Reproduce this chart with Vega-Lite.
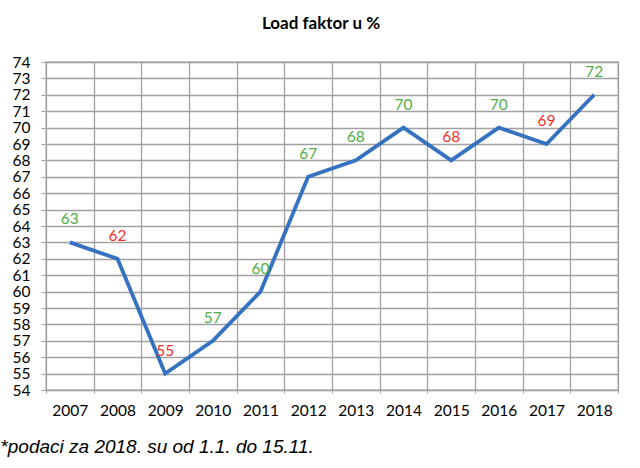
{
  "$schema": "https://vega.github.io/schema/vega-lite/v6.json",
  "background": "white",
  "padding": {"left": 0, "top": 14, "right": 10, "bottom": 5},
  "title": {
    "text": "*podaci za 2018. su od 1.1. do 15.11.",
    "orient": "bottom",
    "anchor": "start",
    "font": "Liberation Sans",
    "fontStyle": "italic",
    "fontWeight": "normal",
    "fontSize": 19,
    "color": "black",
    "offset": 19,
    "dx": -11
  },
  "vconcat": [
    {
      "width": 572,
      "height": 328,
      "title": {
        "text": "Load faktor u %",
        "font": "Lato",
        "fontSize": 17,
        "fontWeight": "bold",
        "color": "black",
        "offset": 22,
        "dx": -11
      },
      "data": {
        "values": [
          {"year": "2007", "value": 63, "trend": "up"},
          {"year": "2008", "value": 62, "trend": "down"},
          {"year": "2009", "value": 55, "trend": "down"},
          {"year": "2010", "value": 57, "trend": "up"},
          {"year": "2011", "value": 60, "trend": "up"},
          {"year": "2012", "value": 67, "trend": "up"},
          {"year": "2013", "value": 68, "trend": "up"},
          {"year": "2014", "value": 70, "trend": "up"},
          {"year": "2015", "value": 68, "trend": "down"},
          {"year": "2016", "value": 70, "trend": "up"},
          {"year": "2017", "value": 69, "trend": "down"},
          {"year": "2018", "value": 72, "trend": "up"}
        ]
      },
      "encoding": {
        "x": {
          "field": "year",
          "type": "ordinal",
          "scale": {"type": "band", "paddingInner": 0, "paddingOuter": 0},
          "axis": {
            "title": null,
            "labelAngle": 0,
            "tickBand": "extent",
            "grid": true,
            "gridColor": "#a0a0a0",
            "gridWidth": 1.3,
            "domain": false,
            "tickColor": "#a0a0a0",
            "tickSize": 3,
            "labelPadding": 10,
            "labelFont": "Lato",
            "labelFontSize": 15.5,
            "labelColor": "black"
          }
        },
        "y": {
          "field": "value",
          "type": "quantitative",
          "scale": {"domain": [54, 74], "nice": false, "zero": false},
          "axis": {
            "title": null,
            "values": [54, 55, 56, 57, 58, 59, 60, 61, 62, 63, 64, 65, 66, 67, 68, 69, 70, 71, 72, 73, 74],
            "grid": true,
            "gridColor": "#a0a0a0",
            "gridWidth": 1.3,
            "domain": false,
            "tickColor": "#a0a0a0",
            "tickSize": 5,
            "labelPadding": 11,
            "labelFont": "Lato",
            "labelFontSize": 15.5,
            "labelColor": "black"
          }
        }
      },
      "layer": [
        {
          "mark": {"type": "line", "color": "#3572C0", "strokeWidth": 3.8}
        },
        {
          "mark": {"type": "text", "dy": -23, "font": "Lato", "fontSize": 15.5},
          "encoding": {
            "text": {"field": "value", "type": "quantitative"},
            "color": {
              "field": "trend",
              "type": "nominal",
              "scale": {"domain": ["up", "down"], "range": ["#52ac48", "#f2302b"]},
              "legend": null
            }
          }
        }
      ]
    }
  ],
  "config": {
    "view": {"stroke": "#a0a0a0", "strokeWidth": 1.3},
    "concat": {"spacing": 0}
  }
}
